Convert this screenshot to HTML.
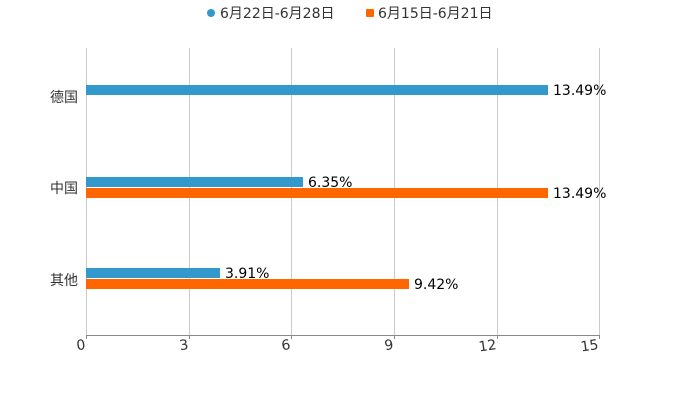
<!DOCTYPE html><html><head><style>body{margin:0;background:#fff}</style></head><body>
<svg width="700" height="400" xmlns="http://www.w3.org/2000/svg" font-family="'DejaVu Sans','Noto Sans CJK SC',sans-serif">
<g stroke="#ccc" stroke-width="1">
<line x1="86.5" y1="48" x2="86.5" y2="335"/><line x1="189.5" y1="48" x2="189.5" y2="335"/><line x1="291.5" y1="48" x2="291.5" y2="335"/><line x1="394.5" y1="48" x2="394.5" y2="335"/><line x1="497.5" y1="48" x2="497.5" y2="335"/><line x1="599.5" y1="48" x2="599.5" y2="335"/>
</g>
<line x1="86" y1="335.5" x2="600" y2="335.5" stroke="#888"/>
<g stroke="#888"><line x1="86.5" y1="335" x2="86.5" y2="339"/><line x1="189.5" y1="335" x2="189.5" y2="339"/><line x1="291.5" y1="335" x2="291.5" y2="339"/><line x1="394.5" y1="335" x2="394.5" y2="339"/><line x1="497.5" y1="335" x2="497.5" y2="339"/><line x1="599.5" y1="335" x2="599.5" y2="339"/></g>
<g font-size="14" fill="#333" text-anchor="end">
<text transform="translate(86,349) rotate(-8)">0</text>
<text transform="translate(189,349) rotate(-8)">3</text>
<text transform="translate(291,349) rotate(-8)">6</text>
<text transform="translate(394,349) rotate(-8)">9</text>
<text transform="translate(497,349) rotate(-8)">12</text>
<text transform="translate(599,349) rotate(-8)">15</text>
</g>
<g font-size="14" fill="#333" text-anchor="end">
<text x="78" y="102">德国</text><text x="78" y="193">中国</text><text x="78" y="285">其他</text>
</g>
<rect x="86" y="85" width="462" height="10" fill="#3399cc"/>
<rect x="86" y="177" width="217" height="10" fill="#3399cc"/>
<rect x="86" y="188" width="462" height="10" fill="#ff6600"/>
<rect x="86" y="268" width="134" height="10" fill="#3399cc"/>
<rect x="86" y="279" width="323" height="10" fill="#ff6600"/>
<g font-size="14" fill="#000">
<text x="553" y="95">13.49%</text><text x="308" y="187">6.35%</text><text x="553" y="198">13.49%</text><text x="225" y="278">3.91%</text><text x="414" y="289">9.42%</text>
</g>
<circle cx="211" cy="13" r="4" fill="#3399cc"/>
<text x="220" y="18" font-size="14" fill="#333">6月22日-6月28日</text>
<rect x="366" y="9" width="8" height="8" rx="1" fill="#ff6600"/>
<text x="378" y="18" font-size="14" fill="#333">6月15日-6月21日</text>
</svg></body></html>
